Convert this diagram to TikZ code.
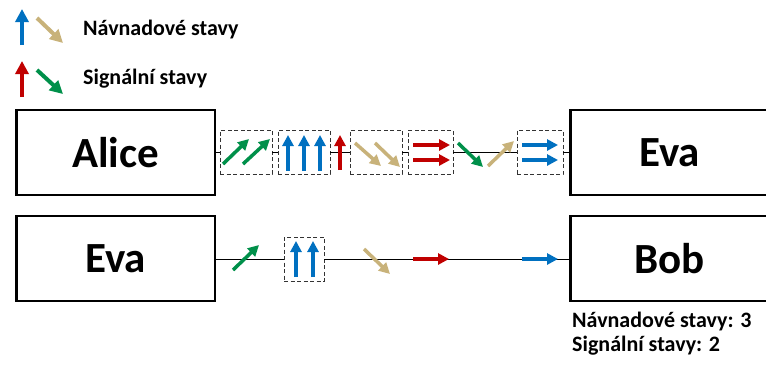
\documentclass[tikz,border=0pt]{standalone}
\usepackage{fontspec}
\setmainfont{Carlito}
\usetikzlibrary{positioning,arrows.meta}
\definecolor{qblue}{HTML}{0070C0}
\definecolor{qred}{HTML}{C00000}
\definecolor{qgreen}{HTML}{00904A}
\definecolor{qtan}{HTML}{C8B27A}

\begin{document}
\begin{tikzpicture}[
  x=1pt, y=-1pt,
  party/.style={draw, line width=2.5pt, minimum width=198.5pt, minimum height=85pt,
                inner sep=0pt, outer sep=0pt, font=\fontsize{43}{43}\selectfont\bfseries},
  group/.style={draw=black!80, dash pattern=on 4pt off 2.5pt, line width=1pt, fill=white,
                inner sep=0pt, outer sep=0pt, minimum height=44pt},
  lbl/.style={anchor=base west, inner sep=0pt, font=\fontsize{22}{22}\selectfont\bfseries},
  link/.style={line width=0.8pt},
  st/.style={-{Triangle[length=11pt,width=11pt]}, line width=3.5pt},
  stbig/.style={-{Triangle[length=13pt,width=13pt]}, line width=4pt}
]
\useasboundingbox (0,0) rectangle (766,365);

% ===== Legend =====
\draw[stbig, qblue]  (22,45) -- (22,9);
\draw[stbig, qtan]   (37,18) -- (63,43);
\node[lbl] (lnav) at (83,35) {Návnadové stavy};
\draw[stbig, qred]   (22,97) -- (22,61);
\draw[stbig, qgreen] (37,70) -- (63,94);
\node[lbl] (lsig) at (83,84) {Signální stavy};

% ===== Parties =====
\node[party] (alice) at (115.5,152.5) {Alice};
\node[party, below=21pt of alice] (evab) {Eva};
\node[party, right=355.5pt of alice] (evaa) {Eva};
\node[party, right=355.5pt of evab] (bob) {Bob};

% ===== Top row: Alice -> Eva =====
\node[group, minimum width=52pt] (g1) at (246,152) {};
\node[group, minimum width=52pt] (g2) at (304,152) {};
\node[group, minimum width=52pt] (g3) at (376,152) {};
\node[group, minimum width=45pt] (g4) at (430.5,152) {};
\node[group, minimum width=46pt] (g5) at (540,152) {};
\draw[link] (alice.east |- g1.west) -- (g1.west)
            (g1.east) -- (g2.west)
            (g2.east) -- (g3.west)
            (g3.east) -- (g4.west)
            (g4.east) -- (g5.west)
            (g5.east) -- (evaa.west |- g5.east);

\draw[st, qgreen] (223,164) -- (249,139);
\draw[st, qgreen] (243,164) -- (270,139);
\draw[st, qblue]  (288,171) -- (288,135);
\draw[st, qblue]  (304,171) -- (304,135);
\draw[st, qblue]  (320,171) -- (320,135);
\draw[st, qred]   (340,170) -- (340,135);
\draw[st, qtan]   (355,143) -- (381,166);
\draw[st, qtan]   (375,143) -- (400,167);
\draw[st, qred]   (413,145) -- (450,145);
\draw[st, qred]   (413,160) -- (450,160);
\draw[st, qgreen] (458,143) -- (483,167);
\draw[st, qtan]   (488,166) -- (514,141);
\draw[st, qblue]  (522,145) -- (558,145);
\draw[st, qblue]  (522,160) -- (558,160);

% ===== Bottom row: Eva -> Bob =====
\node[group, minimum width=40pt] (h1) at (304,259) {};
\draw[link] (evab.east |- h1.west) -- (h1.west)
            (h1.east) -- (bob.west |- h1.east);

\draw[st, qgreen] (233,270) -- (259,245);
\draw[st, qblue]  (296,277) -- (296,241);
\draw[st, qblue]  (313,277) -- (313,241);
\draw[st, qtan]   (364,249) -- (390,274);
\draw[st, qred]   (413,259) -- (449,259);
\draw[st, qblue]  (522,259) -- (558,259);

% ===== Counts =====
\node[lbl] (cnav) at (572,327.5) {Návnadové stavy: 3};
\node[lbl] (csig) at (572,351) {Signální stavy: 2};

\end{tikzpicture}
\end{document}
